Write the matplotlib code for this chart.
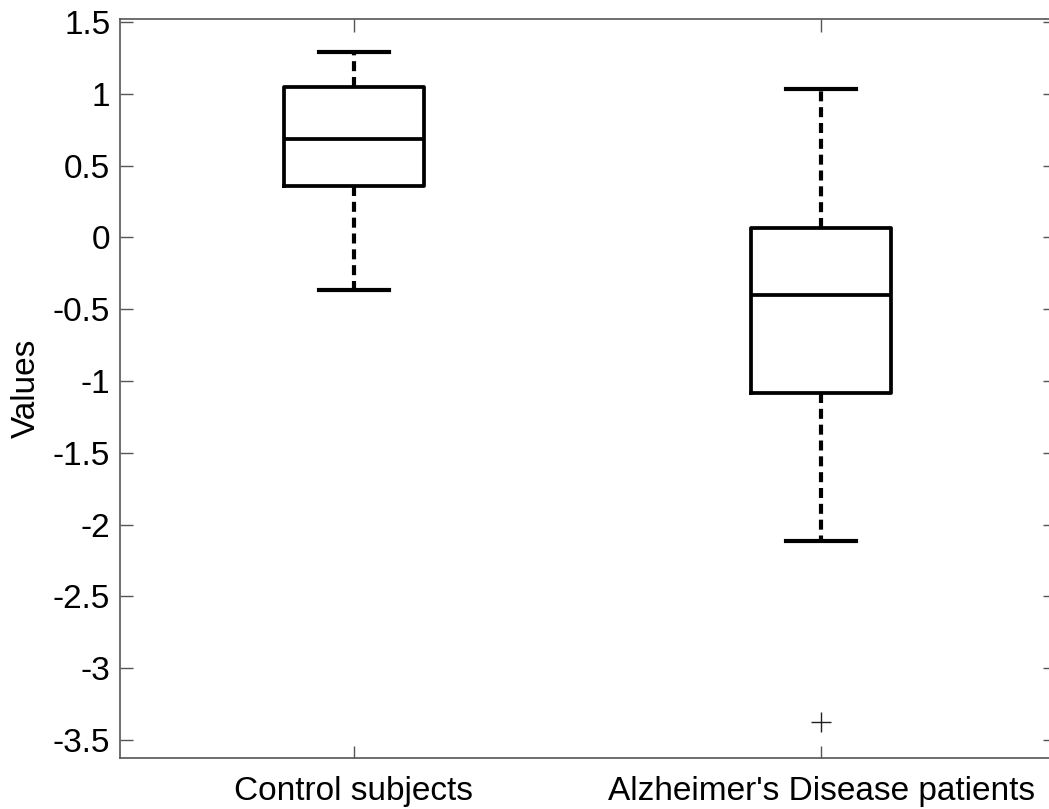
import matplotlib
matplotlib.use("Agg")
import matplotlib.pyplot as plt

# --- Dados ---
grupos = ["Control subjects", "Alzheimer's Disease patients"]
bigode_sup = [1.293, 1.033]
q3 = [1.045, 0.068]
mediana = [0.683, -0.401]
q1 = [0.358, -1.084]
bigode_inf = [-0.364, -2.112]
outliers = [[], [-3.375]]

plt.rcParams["font.family"] = ["Liberation Sans", "DejaVu Sans"]

fig = plt.figure(figsize=(10.49, 8.09), dpi=100)
ax = fig.add_axes([120 / 1049, 51.3 / 809, 935 / 1049, 738.7 / 809])

stats = []
for i in range(len(grupos)):
    stats.append({
        "label": grupos[i],
        "med": mediana[i],
        "q1": q1[i],
        "q3": q3[i],
        "whislo": bigode_inf[i],
        "whishi": bigode_sup[i],
        "fliers": outliers[i],
    })

ax.bxp(
    stats,
    positions=[1, 2],
    widths=0.3,
    boxprops=dict(color="black", linewidth=2.7),
    medianprops=dict(color="black", linewidth=2.7),
    whiskerprops=dict(color="black", linewidth=3.0, linestyle=(0, (2.4, 1.4))),
    capprops=dict(color="black", linewidth=3.0),
    flierprops=dict(marker="+", markersize=14, markeredgecolor="#222222",
                    markeredgewidth=1.0, linestyle="none"),
)

ax.set_xlim(0.5, 2.5)
ax.set_ylim(-3.623, 1.521)
ax.set_yticks([1.5, 1, 0.5, 0, -0.5, -1, -1.5, -2, -2.5, -3, -3.5])
ax.set_yticklabels(["1.5", "1", "0.5", "0", "-0.5", "-1", "-1.5", "-2", "-2.5", "-3", "-3.5"])
ax.set_ylabel("Values", fontsize=24, labelpad=8)

ax.tick_params(axis="both", direction="in", length=9, width=1, color="#555555",
               labelsize=24, top=True, right=True)
ax.tick_params(axis="y", pad=7)
ax.tick_params(axis="x", pad=13)
for s in ax.spines.values():
    s.set_color("#555555")
    s.set_linewidth(1.2)

fig.savefig("out.png", dpi=100)
